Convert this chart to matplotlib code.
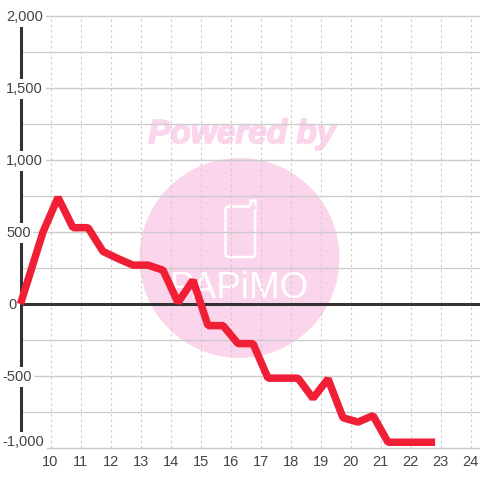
import matplotlib
matplotlib.use("Agg")
import matplotlib.pyplot as plt
import matplotlib.patheffects as pe
from matplotlib.patches import Circle, FancyBboxPatch

# half hour points
hours = [9, 9.75, 10.25, 10.75, 11.25, 11.75, 12.25, 12.75, 13.25, 13.75, 14.25, 14.75,
         15.25, 15.75, 16.25, 16.75, 17.25, 17.75, 18.25, 18.75, 19.25, 19.75, 20.25,
         20.75, 21.25, 21.75, 22.25, 22.82]
values = [0, 500, 740, 530, 530, 365, 315, 270, 270, 235, 10, 165,
          -150, -150, -275, -275, -515, -515, -515, -655, -520, -790, -820,
          -775, -960, -960, -960, -960]

x_ticks = list(range(10, 25))
y_ticks = [2000, 1500, 1000, 500, 0, -500, -1000]
y_labels = ["2,000", "1,500", "1,000", "500", "0", "-500", "-1,000"]
y_grid = list(range(-1000, 2001, 250))

plt.rcParams["font.family"] = "Liberation Sans"
text_col = "#444444"
grid_col = "#cccccc"
dark = "#333333"
pink = "#fbd5ec"

fig = plt.figure(figsize=(4.8, 4.8), dpi=100)

# watermark, in pixel coords
bg = fig.add_axes([0, 0, 1, 1], zorder=0)
bg.set_xlim(0, 480)
bg.set_ylim(480, 0)
bg.axis("off")
bg.add_patch(Circle((239.5, 258), 100, fc=pink, ec="none"))
bg.text(242, 134.5, "Powered by", color=pink, fontsize=24, fontweight="bold", style="italic",
        ha="center", va="center",
        path_effects=[pe.withStroke(linewidth=1.2, foreground=pink)])
bg.add_patch(FancyBboxPatch((225.5, 206.5), 29.5, 50.5, boxstyle="round,pad=0,rounding_size=3.5",
                            fc="none", ec="white", lw=1.8))
bg.plot([250, 250, 255, 255], [206.5, 200, 200, 210], color="white", lw=1.8,
        solid_joinstyle="round")
bg.plot([250.5, 254], [206.5, 206.5], color=pink, lw=2.4)
bg.text(239.5, 289, "PAPiMO", color="white", fontsize=26.5, ha="center", va="center")

# main axes: x=9 is at pixel 20.5, y range 448..16
ax = fig.add_axes([20.5 / 480, 32 / 480, 459.5 / 480, 432 / 480], zorder=1)
ax.patch.set_alpha(0)
ax.set_xlim(9, 9 + 459.5 / 30)
ax.set_ylim(-1000, 2000)
for s in ax.spines.values():
    s.set_visible(False)
ax.tick_params(length=0)
ax.set_yticks([])
ax.set_xticks(x_ticks)
ax.set_xticklabels([str(t) for t in x_ticks], color=text_col, fontsize=10.5)
ax.tick_params(axis="x", pad=5)

for v in y_grid:
    ax.axhline(v, color=grid_col, lw=1.0, zorder=1, clip_on=False)
for t in x_ticks:
    ax.axvline(t, color=grid_col, lw=0.8, ls=(0, (2.2, 2.6)), zorder=1)

ax.axvline(9, color=dark, lw=2.2, zorder=2, clip_on=False)
ax.axhline(0, color=dark, lw=2.2, zorder=2)
ax.plot(hours, values, color="#f01f35", lw=5.4, solid_joinstyle="bevel",
        solid_capstyle="butt", zorder=4, clip_on=False)

# y labels sit on top of the axis with a white box
for v, lab in zip(y_ticks, y_labels):
    if lab == "0":
        px = 8
    elif lab.startswith("-"):
        px = 2
    else:
        px = 6
    yv = v - 6 if v != -1000 else -955
    ax.annotate(lab, xy=(px, yv), xycoords=("figure pixels", "data"), ha="left", va="center",
                color=text_col, fontsize=10.5, zorder=3, annotation_clip=False,
                bbox=dict(fc="white", ec="none", pad=2))

fig.savefig("out.png", dpi=100)
